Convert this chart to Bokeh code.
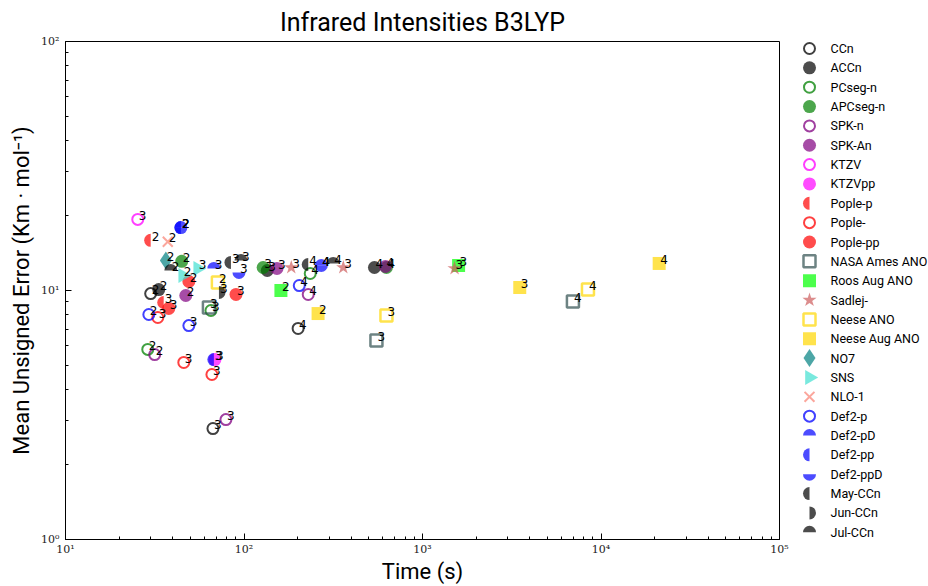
import math
from bokeh.plotting import figure
from bokeh.models import FixedTicker, Range1d, CustomJSTickFormatter
from bokeh.layouts import row
from bokeh.embed import file_html
from bokeh.resources import INLINE
from bokeh.core.properties import value

# ---------------- data (time in s, mean unsigned error, zeta label) ----------------
ccn_t = [30.0, 67.0, 201.0];       ccn_e = [9.72, 2.79, 7.04];      ccn_z = ["2", "3", "4"]
accn_t = [33.3, 135.0, 538.0];     accn_e = [10.09, 12.03, 12.37];  accn_z = ["2", "3", "4"]
pcseg_t = [28.9, 65.3, 235.0];     pcseg_e = [5.80, 8.31, 11.70];   pcseg_z = ["2", "3", "4"]
apcseg_t = [44.8, 128.0, 628.0];   apcseg_e = [13.1, 12.37, 12.37]; apcseg_z = ["2", "3", "4"]
spkn_t = [31.6, 79.2, 229.0];      spkn_e = [5.53, 3.03, 9.64];     spkn_z = ["2", "3", "4"]
spkan_t = [47.2, 153.0, 620.0];    spkan_e = [9.55, 12.26, 12.49];  spkan_z = ["2", "3", "4"]
ktzv_t = [25.4];                   ktzv_e = [19.3];                 ktzv_z = ["3"]
ktzvpp_t = [68.7];                 ktzvpp_e = [5.28];               ktzvpp_z = ["3"]
poplep_t = [30.0, 35.5];           poplep_e = [15.9, 8.95];         poplep_z = ["2", "3"]
pople_t = [32.9, 46.0, 66.1];      pople_e = [7.79, 5.14, 4.60];    pople_z = ["3", "3", "3"]
poplepp_t = [49.1, 37.9, 90.2];    poplepp_e = [10.87, 8.47, 9.64]; poplepp_z = ["2", "3", "3"]
nasa_t = [63.6, 552.0, 6961.0];    nasa_e = [8.55, 6.30, 9.03];     nasa_z = ["3", "3", "4"]
roos_t = [161.0, 1593.0];          roos_e = [10.0, 12.6];           roos_z = ["2", "3"]
sadlej_t = [184.0, 360.0, 1512.0]; sadlej_e = [12.37, 12.37, 12.26]; sadlej_z = ["3", "3", "3"]
neese_t = [71.4, 628.0, 8453.0];   neese_e = [10.77, 7.94, 10.09];  neese_z = ["2", "3", "4"]
neeseaug_t = [260.0, 3506.0, 21180.0]; neeseaug_e = [8.08, 10.28, 12.84]; neeseaug_z = ["2", "3", "4"]
no7_t = [36.5];                    no7_e = [13.2];                  no7_z = ["2"]
sns_t = [45.4, 55.1];              sns_e = [11.49, 12.26];          sns_z = ["2", "3"]
nlo_t = [37.4];                    nlo_e = [15.7];                  nlo_z = ["2"]
def2p_t = [29.3, 49.1, 204.0];     def2p_e = [8.01, 7.23, 10.47];   def2p_z = ["2", "3", "4"]
def2pd_t = [44.3, 67.8, 271.0];    def2pd_e = [17.9, 12.26, 12.6];  def2pd_z = ["2", "3", "4"]
def2pp_t = [44.3, 67.8];           def2pp_e = [17.9, 5.28];         def2pp_z = ["2", "3"]
def2ppd_t = [44.3, 93.7, 271.0];   def2ppd_e = [17.9, 11.81, 12.6]; def2ppd_z = ["2", "3", "4"]
may_t = [84.5, 229.0];             may_e = [12.96, 12.72];          may_z = ["3", "4"]
jun_t = [72.4];                    jun_e = [9.82];                  jun_z = ["3"]
jul_t = [38.9, 96.2, 316.0];       jul_e = [12.03, 13.2, 12.84];    jul_z = ["2", "3", "4"]

x_ticks = [10, 100, 1000, 10000, 100000]
y_ticks = [1, 10, 100]

# (name, times, errors, labels, marker kind, colour)
series = [
    ("CCn", ccn_t, ccn_e, ccn_z, "open_circle", "black"),
    ("ACCn", accn_t, accn_e, accn_z, "circle", "black"),
    ("PCseg-n", pcseg_t, pcseg_e, pcseg_z, "open_circle", "green"),
    ("APCseg-n", apcseg_t, apcseg_e, apcseg_z, "circle", "green"),
    ("SPK-n", spkn_t, spkn_e, spkn_z, "open_circle", "purple"),
    ("SPK-An", spkan_t, spkan_e, spkan_z, "circle", "purple"),
    ("KTZV", ktzv_t, ktzv_e, ktzv_z, "open_circle", "magenta"),
    ("KTZVpp", ktzvpp_t, ktzvpp_e, ktzvpp_z, "circle", "magenta"),
    ("Pople-p", poplep_t, poplep_e, poplep_z, "left", "red"),
    ("Pople-", pople_t, pople_e, pople_z, "open_circle", "red"),
    ("Pople-pp", poplepp_t, poplepp_e, poplepp_z, "circle", "red"),
    ("NASA Ames ANO", nasa_t, nasa_e, nasa_z, "open_square", "darkslategray"),
    ("Roos Aug ANO", roos_t, roos_e, roos_z, "square", "lime"),
    ("Sadlej-", sadlej_t, sadlej_e, sadlej_z, "star", "indianred"),
    ("Neese ANO", neese_t, neese_e, neese_z, "open_square", "gold"),
    ("Neese Aug ANO", neeseaug_t, neeseaug_e, neeseaug_z, "square", "gold"),
    ("NO7", no7_t, no7_e, no7_z, "diamond", "teal"),
    ("SNS", sns_t, sns_e, sns_z, "tri_right", "turquoise"),
    ("NLO-1", nlo_t, nlo_e, nlo_z, "x", "salmon"),
    ("Def2-p", def2p_t, def2p_e, def2p_z, "open_circle", "blue"),
    ("Def2-pD", def2pd_t, def2pd_e, def2pd_z, "top", "blue"),
    ("Def2-pp", def2pp_t, def2pp_e, def2pp_z, "left", "blue"),
    ("Def2-ppD", def2ppd_t, def2ppd_e, def2ppd_z, "bottom", "blue"),
    ("May-CCn", may_t, may_e, may_z, "left", "black"),
    ("Jun-CCn", jun_t, jun_e, jun_z, "right", "black"),
    ("Jul-CCn", jul_t, jul_e, jul_z, "top", "black"),
]

HALVES = {"left": (math.pi / 2, 3 * math.pi / 2), "right": (-math.pi / 2, math.pi / 2),
          "top": (0.0, math.pi), "bottom": (math.pi, 2 * math.pi)}
A = 0.7


def draw(fig, kind, color, x, y):
    if kind == "open_circle":
        fig.scatter(x, y, marker="circle", size=11, fill_color=None, line_color=color,
                    line_width=2, line_alpha=0.75)
    elif kind == "circle":
        fig.scatter(x, y, marker="circle", size=13, fill_color=color, fill_alpha=A, line_color=None)
    elif kind in HALVES:
        a0, a1 = HALVES[kind]
        fig.wedge(x=x, y=y, radius=6.5, radius_units="screen", start_angle=a0, end_angle=a1,
                  fill_color=color, fill_alpha=A, line_color=None)
    elif kind == "open_square":
        fig.scatter(x, y, marker="square", size=12, fill_color=None, line_color=color,
                    line_width=2.5, line_alpha=A)
    elif kind == "square":
        fig.scatter(x, y, marker="square", size=13, fill_color=color, fill_alpha=A, line_color=None)
    elif kind == "star":
        fig.scatter(x, y, marker="star", size=15, fill_color=color, fill_alpha=A, line_color=None)
    elif kind == "diamond":
        fig.scatter(x, y, marker="diamond", size=18, fill_color=color, fill_alpha=A, line_color=None)
    elif kind == "tri_right":
        fig.scatter(x, y, marker="triangle", size=15, angle=-math.pi / 2,
                    fill_color=color, fill_alpha=A, line_color=None)
    elif kind == "x":
        fig.scatter(x, y, marker="x", size=14, line_color=color, line_width=2, line_alpha=A)


# ---------------- main plot ----------------
p = figure(width=790, height=586, x_axis_type="log", y_axis_type="log",
           x_range=Range1d(10, 1e5), y_range=Range1d(1, 100),
           output_backend="svg", toolbar_location=None,
           min_border_left=65, min_border_right=11, min_border_top=41, min_border_bottom=47)
p.grid.visible = False
p.outline_line_color = "black"
p.background_fill_color = "white"
p.border_fill_color = "white"

p.title.text = "Infrared Intensities B3LYP"
p.title.align = "center"
p.title.text_font = "Roboto"
p.title.text_font_size = "25px"
p.title.text_font_style = "normal"
p.title.text_color = "black"

fmt_code = """
const sup = {'0':'\u2070','1':'\u00b9','2':'\u00b2','3':'\u00b3','4':'\u2074','5':'\u2075','-':'\u207b'};
const e = Math.round(Math.log10(tick));
return '10' + String(e).split('').map(c => sup[c]).join('');
"""
x_minor = [m * t for t in x_ticks[:-1] for m in range(2, 10)]
y_minor = [m * t for t in y_ticks[:-1] for m in range(2, 10)]
p.xaxis.ticker = FixedTicker(ticks=x_ticks, minor_ticks=x_minor)
p.yaxis.ticker = FixedTicker(ticks=y_ticks, minor_ticks=y_minor)
p.xaxis.formatter = CustomJSTickFormatter(code=fmt_code)
p.yaxis.formatter = CustomJSTickFormatter(code=fmt_code)

p.xaxis.axis_label = "Time (s)"
p.yaxis.axis_label = "Mean Unsigned Error (Km \u00b7 mol\u207b\u00b9)"
for ax in (p.xaxis[0], p.yaxis[0]):
    ax.axis_label_text_font = "Roboto"
    ax.axis_label_text_font_size = "22px"
    ax.axis_label_text_font_style = "normal"
    ax.axis_label_text_color = "black"
    ax.axis_label_standoff = 0
    ax.major_label_text_font = "DejaVu Serif"
    ax.major_label_text_font_size = "11px"
    ax.major_label_text_color = "#222222"
    ax.major_label_standoff = 3
    ax.major_tick_in = 6
    ax.major_tick_out = 0
    ax.minor_tick_in = 3
    ax.minor_tick_out = 0
    ax.axis_line_color = "black"
    ax.major_tick_line_color = "black"
    ax.minor_tick_line_color = "black"
p.yaxis[0].axis_label_standoff = 4
p.yaxis[0].major_label_standoff = 6

for name, t, e, z, kind, color in series:
    draw(p, kind, color, t, e)

for name, t, e, z, kind, color in series:
    p.text(x=t, y=e, text=z, x_offset=1, y_offset=-4, text_font=value("DejaVu Sans"),
           text_font_size="12px", text_color="black", text_baseline="alphabetic", text_align="left")

# ---------------- legend panel ----------------
# frames in a row are aligned with the main plot frame (page rows 41..539),
# so the y range is expressed in page pixels counted from the bottom.
lg = figure(width=138, height=586, x_range=Range1d(0, 138), y_range=Range1d(586 - 539, 586 - 41),
            output_backend="svg", toolbar_location=None, x_axis_type=None, y_axis_type=None,
            min_border=0)
lg.grid.visible = False
lg.outline_line_color = None
first_row, step = 48.0, 19.35
for i, (name, t, e, z, kind, color) in enumerate(series):
    yy = 586 - (first_row + i * step)
    draw(lg, kind, color, [19], [yy])
    lg.text(x=[40], y=[yy], text=[name], text_font=value("Roboto"), text_font_size="12.5px",
            text_color="black", text_baseline="middle", text_align="left")

layout = row(p, lg)
open("out.html", "w").write(file_html(layout, INLINE))
